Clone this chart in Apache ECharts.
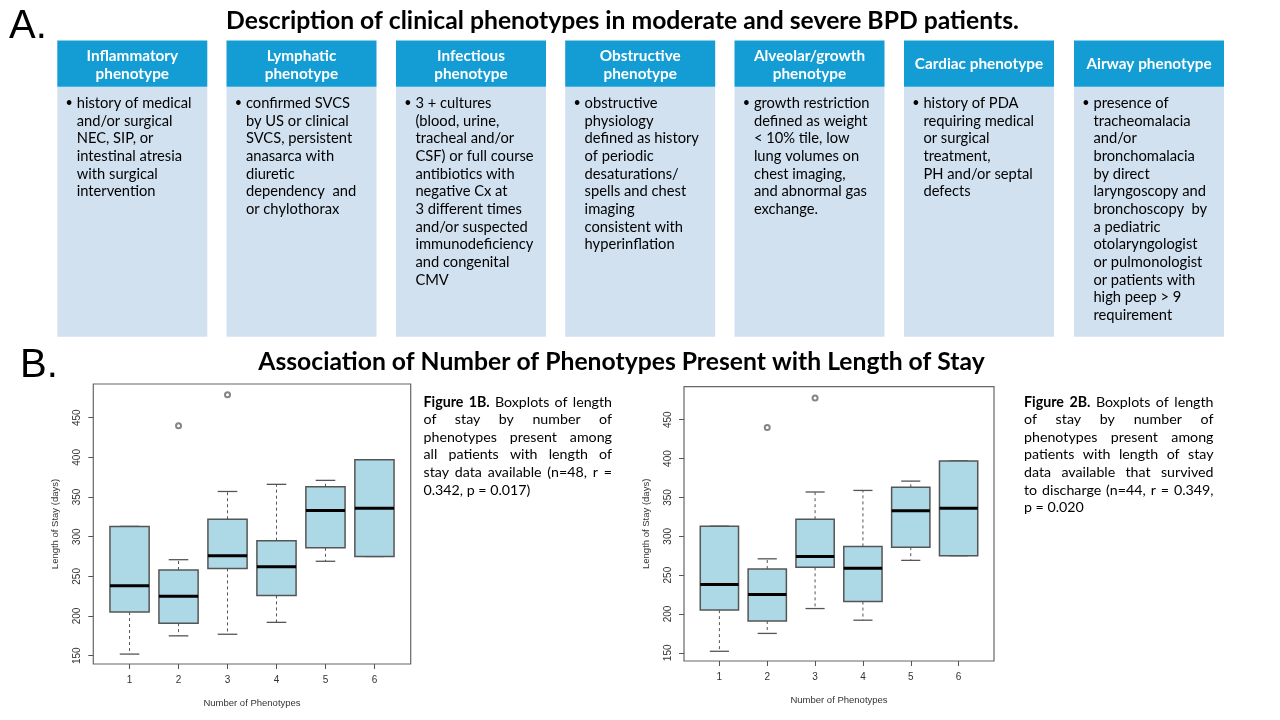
<!DOCTYPE html>
<html><head><meta charset="utf-8">
<script src="https://cdn.jsdelivr.net/npm/echarts@6/dist/echarts.min.js"></script>
<style>html,body{margin:0;padding:0;background:#fff}#c{width:1280px;height:720px}</style>
</head><body><div id="c"></div>
<script>
// ---------- data ----------
const mainTitleA = 'Description of clinical phenotypes in moderate and severe BPD patients.';
const mainTitleB = 'Association of Number of Phenotypes Present with Length of Stay';
const phenotypeNames = [
  ['Inflammatory', 'phenotype'],
  ['Lymphatic', 'phenotype'],
  ['Infectious', 'phenotype'],
  ['Obstructive', 'phenotype'],
  ['Alveolar/growth', 'phenotype'],
  ['Cardiac phenotype'],
  ['Airway phenotype']
];
const phenotypeText = [
  ['history of medical', 'and/or surgical', 'NEC, SIP, or', 'intestinal atresia', 'with surgical', 'intervention'],
  ['confirmed SVCS', 'by US or clinical', 'SVCS, persistent', 'anasarca with', 'diuretic', 'dependency  and', 'or chylothorax'],
  ['3 + cultures', '(blood, urine,', 'tracheal and/or', 'CSF) or full course', 'antibiotics with', 'negative Cx at', '3 different times', 'and/or suspected', 'immunodeficiency', 'and congenital', 'CMV'],
  ['obstructive', 'physiology', 'defined as history', 'of periodic', 'desaturations/', 'spells and chest', 'imaging', 'consistent with', 'hyperinflation'],
  ['growth restriction', 'defined as weight', '< 10% tile, low', 'lung volumes on', 'chest imaging,', 'and abnormal gas', 'exchange.'],
  ['history of PDA', 'requiring medical', 'or surgical', 'treatment,', 'PH and/or septal', 'defects'],
  ['presence of', 'tracheomalacia', 'and/or', 'bronchomalacia', 'by direct', 'laryngoscopy and', 'bronchoscopy  by', 'a pediatric', 'otolaryngologist', 'or pulmonologist', 'or patients with', 'high peep > 9', 'requirement']
];
const caption1Bold = 'Figure 1B.';
const caption1Lines = ['Figure 1B. Boxplots of length', 'of stay by number of', 'phenotypes present among', 'all patients with length of', 'stay data available (n=48, r =', '0.342, p = 0.017)'];
const caption2Bold = 'Figure 2B.';
const caption2Lines = ['Figure 2B. Boxplots of length', 'of stay by number of', 'phenotypes present among', 'patients with length of stay', 'data available that survived', 'to discharge (n=44, r = 0.349,', 'p = 0.020'];

const categories = [1, 2, 3, 4, 5, 6];
const yTicks = [150, 200, 250, 300, 350, 400, 450];
const xAxisName = 'Number of Phenotypes';
const yAxisName = 'Length of Stay (days)';

// Figure 1B (all patients)
const fig1Low    = [152, 175, 177, 192, 269, 275];
const fig1Q1     = [205, 191, 260, 226, 286, 275];
const fig1Median = [238, 225, 276, 262, 333, 336];
const fig1Q3     = [313, 258, 322, 295, 363, 397];
const fig1High   = [313, 271, 357, 366, 371, 397];
const fig1Outliers = [[2, 440], [3, 479]];

// Figure 2B (survived to discharge)
const fig2Low    = [152, 175, 207, 192, 269, 275];
const fig2Q1     = [205, 191, 260, 216, 286, 275];
const fig2Median = [238, 225, 274, 259, 333, 336];
const fig2Q3     = [313, 258, 322, 287, 363, 397];
const fig2High   = [313, 271, 357, 359, 371, 397];
const fig2Outliers = [[2, 440], [3, 478]];

// ---------- helpers ----------
const FAM = 'Lato, "Noto Sans", sans-serif';
const mctx = document.createElement('canvas').getContext('2d');
function tw(text, font) { mctx.font = font; return mctx.measureText(text).width; }
function fitSize(text, weight, target) {
  const base = 20;
  return base * target / tw(text, weight + ' ' + base + 'px ' + FAM);
}
function txt(x, y, text, font, fill, align) {
  return { type: 'text', x: x, y: y, silent: true,
    style: { text: text, font: font, fill: fill || '#000', align: align || 'left', verticalAlign: 'middle' } };
}

const graphics = [];
// Panel letters
graphics.push(txt(9, 27, 'A.', '40px "Liberation Sans", Arial, sans-serif', '#000'));
graphics.push(txt(20, 366, 'B.', '40px "Liberation Sans", Arial, sans-serif', '#000'));
// Titles
const tA = fitSize(mainTitleA, 'bold', 793);
graphics.push(txt(622.5, 21.5, mainTitleA, 'bold ' + tA + 'px ' + FAM, '#000', 'center'));
const tB = fitSize(mainTitleB, 'bold', 727);
graphics.push(txt(621.5, 362, mainTitleB, 'bold ' + tB + 'px ' + FAM, '#000', 'center'));

// Cards
const cardLeft = [57.3, 226.5, 396, 565.2, 734.5, 904, 1074];
const cardW = 150, cardTop = 40.5, headH = 46.3, cardBottom = 336.7;
const headSize = fitSize('Inflammatory', 'bold', 91.7);
const bodySize = fitSize('history of medical', 'normal', 115);
phenotypeNames.forEach(function (name, i) {
  const L = cardLeft[i];
  graphics.push({ type: 'rect', silent: true, shape: { x: L, y: cardTop + headH, width: cardW, height: cardBottom - cardTop - headH }, style: { fill: '#D2E1F0' } });
  graphics.push({ type: 'rect', silent: true, shape: { x: L, y: cardTop, width: cardW, height: headH }, style: { fill: '#149DD5' } });
  const hf = 'bold ' + headSize + 'px ' + FAM;
  if (name.length === 2) {
    graphics.push(txt(L + cardW / 2, 56.5, name[0], hf, '#fff', 'center'));
    graphics.push(txt(L + cardW / 2, 74.3, name[1], hf, '#fff', 'center'));
  } else {
    graphics.push(txt(L + cardW / 2, 64.5, name[0], hf, '#fff', 'center'));
  }
  const bf = bodySize + 'px ' + FAM;
  graphics.push(txt(L + 11.8, 102.5, '\u2022', (bodySize * 0.85) + 'px ' + FAM, '#000', 'center'));
  phenotypeText[i].forEach(function (line, k) {
    graphics.push(txt(L + 19.4, 103.3 + k * 17.65, line, bf, '#000'));
  });
});

// Justified captions
function caption(lines, boldPrefix, x, y0, width, pitch, size) {
  const nBold = boldPrefix.split(' ').length;
  lines.forEach(function (line, li) {
    const words = line.split(/\s+/);
    const fonts = words.map(function (w, k) { return ((li === 0 && k < nBold) ? 'bold ' : '') + size + 'px ' + FAM; });
    const widths = words.map(function (w, k) { return tw(w, fonts[k]); });
    const total = widths.reduce(function (a, b) { return a + b; }, 0);
    const last = li === lines.length - 1;
    const gap = last ? tw(' ', fonts[0]) : (width - total) / (words.length - 1);
    let cx = x;
    words.forEach(function (w, k) {
      graphics.push(txt(cx, y0 + li * pitch, w, fonts[k], '#000'));
      cx += widths[k] + gap;
    });
  });
}
const capSize = fitSize('0.342, p = 0.017)', 'normal', 107);
caption(caption1Lines, caption1Bold, 423.5, 402, 188.5, 17.6, capSize);
caption(caption2Lines, caption2Bold, 1024, 402, 189.5, 17.6, capSize);

// ---------- boxplot rendering ----------
function renderBox(params, api) {
  const x = api.value(0);
  const pLo = api.coord([x, api.value(1)]);
  const pQ1 = api.coord([x, api.value(2)]);
  const pMd = api.coord([x, api.value(3)]);
  const pQ3 = api.coord([x, api.value(4)]);
  const pHi = api.coord([x, api.value(5)]);
  const bw = api.size([0.8, 0])[0];
  const cw = api.size([0.4, 0])[0];
  const cx = pMd[0];
  const whisk = { stroke: '#555', lineWidth: 1, lineDash: [3, 3] };
  const solid = { stroke: '#555', lineWidth: 1.3 };
  return { type: 'group', children: [
    { type: 'line', shape: { x1: cx, y1: pQ1[1], x2: cx, y2: pLo[1] }, style: whisk },
    { type: 'line', shape: { x1: cx, y1: pQ3[1], x2: cx, y2: pHi[1] }, style: whisk },
    { type: 'line', shape: { x1: cx - cw / 2, y1: pLo[1], x2: cx + cw / 2, y2: pLo[1] }, style: solid },
    { type: 'line', shape: { x1: cx - cw / 2, y1: pHi[1], x2: cx + cw / 2, y2: pHi[1] }, style: solid },
    { type: 'rect', shape: { x: cx - bw / 2, y: pQ3[1], width: bw, height: pQ1[1] - pQ3[1] }, style: { fill: '#ADD8E6', stroke: '#555', lineWidth: 1.5 } },
    { type: 'line', shape: { x1: cx - bw / 2, y1: pMd[1], x2: cx + bw / 2, y2: pMd[1] }, style: { stroke: '#000', lineWidth: 3 } }
  ] };
}
function boxData(lo, q1, md, q3, hi) {
  return categories.map(function (c, i) { return [c, lo[i], q1[i], md[i], q3[i], hi[i]]; });
}

const axisFont = '"Liberation Sans", Arial, sans-serif';
function xAx(gi) {
  return { type: 'value', gridIndex: gi, min: 0.26, max: 6.74,
    axisLine: { show: false }, splitLine: { show: false },
    axisTick: { show: true, customValues: categories, length: 5, lineStyle: { color: '#555' } },
    axisLabel: { customValues: categories, margin: 11, fontSize: 10, color: '#333', fontFamily: axisFont },
    name: xAxisName, nameLocation: 'middle', nameGap: 34,
    nameTextStyle: { fontSize: 9.5, color: '#333', fontFamily: axisFont } };
}
function yAx(gi) {
  return { type: 'value', gridIndex: gi, min: 139.5, max: 492.5,
    axisLine: { show: false }, splitLine: { show: false },
    axisTick: { show: true, customValues: yTicks, length: 5, lineStyle: { color: '#555' } },
    axisLabel: { customValues: yTicks, rotate: 90, margin: 11, fontSize: 10, color: '#333', fontFamily: axisFont },
    name: yAxisName, nameLocation: 'middle', nameGap: 33,
    nameTextStyle: { fontSize: 9.5, color: '#333', fontFamily: axisFont } };
}

const outlierStyle = { symbol: 'emptyCircle', symbolSize: 5, itemStyle: { color: '#666', borderWidth: 0.9 } };

const chart = echarts.init(document.getElementById('c'), null, { renderer: 'canvas', width: 1280, height: 720 });
chart.setOption({
  animation: false,
  backgroundColor: '#fff',
  grid: [
    { left: 93.3, top: 384, width: 317.4, height: 280, show: true, borderColor: '#666', borderWidth: 1.2, containLabel: false },
    { left: 684, top: 386.7, width: 310, height: 274.3, show: true, borderColor: '#666', borderWidth: 1.2, containLabel: false }
  ],
  xAxis: [xAx(0), xAx(1)],
  yAxis: [yAx(0), yAx(1)],
  series: [
    { type: 'custom', xAxisIndex: 0, yAxisIndex: 0, renderItem: renderBox, data: boxData(fig1Low, fig1Q1, fig1Median, fig1Q3, fig1High), encode: { x: 0, y: [1, 2, 3, 4, 5] } },
    Object.assign({ type: 'scatter', xAxisIndex: 0, yAxisIndex: 0, data: fig1Outliers }, outlierStyle),
    { type: 'custom', xAxisIndex: 1, yAxisIndex: 1, renderItem: renderBox, data: boxData(fig2Low, fig2Q1, fig2Median, fig2Q3, fig2High), encode: { x: 0, y: [1, 2, 3, 4, 5] } },
    Object.assign({ type: 'scatter', xAxisIndex: 1, yAxisIndex: 1, data: fig2Outliers }, outlierStyle)
  ],
  graphic: { elements: graphics }
});
</script>
</body></html>
